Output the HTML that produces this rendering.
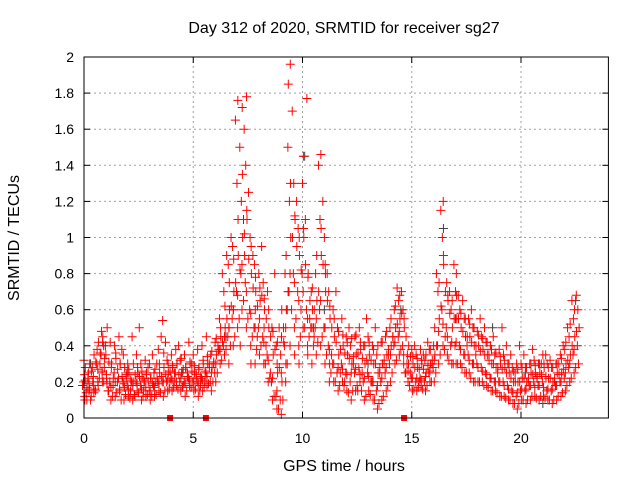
<!DOCTYPE html>
<html><head><meta charset="utf-8"><style>
html,body{margin:0;padding:0;background:#fff}
svg{display:block}
text{font-family:"Liberation Sans",sans-serif;font-size:14px;fill:#000}
text.big{font-size:16px}
</style></head><body>
<svg id="chart" width="640" height="480" viewBox="0 0 640 480"></svg>
<script>
const yTicks = [0,0.2,0.4,0.6,0.8,1,1.2,1.4,1.6,1.8,2];
const yTickLabels = ["0","0.2","0.4","0.6","0.8","1","1.2","1.4","1.6","1.8","2"];
const xTicks = [0,5,10,15,20];
const xTickLabels = ["0","5","10","15","20"];
const redRows = [
[0.0,.12,.2,.28,.32,.18,.1],[0.2,.15,.22,.3,.25,.1],[0.4,.18,.28,.35,.2,.12],[0.6,.2,.3,.42,.38,.15],
[0.8,.25,.35,.45,.48,.3,.2],[1.0,.22,.4,.5,.35,.28],[1.2,.1,.2,.3,.42,.15],[1.4,.12,.25,.33,.4,.18],
[1.6,.15,.22,.3,.45,.2],[1.8,.1,.2,.28,.35,.38],[2.0,.12,.18,.25,.3,.22],[2.2,.1,.2,.3,.45,.15],
[2.4,.15,.2,.25,.35,.12],[2.6,.1,.18,.22,.3,.5],[2.8,.12,.2,.25,.32,.15],[3.0,.1,.15,.22,.3,.28],
[3.2,.12,.18,.2,.25,.35],[3.4,.15,.2,.25,.38,.3],[3.6,.12,.2,.28,.54,.45],[3.8,.15,.2,.25,.32,.42],
[4.0,.15,.22,.28,.35,.2],[4.2,.18,.25,.3,.38,.2],[4.4,.15,.2,.25,.32,.4],[4.6,.12,.2,.28,.35,.18],
[4.8,.18,.22,.3,.42,.25],[5.0,.15,.2,.25,.35,.3],[5.2,.12,.2,.28,.38,.22],[5.4,.15,.22,.3,.4,.18],
[5.6,.18,.25,.3,.45,.2],[5.8,.15,.2,.28,.35,.3],[6.0,.2,.25,.35,.42,.3],[6.2,.3,.38,.45,.55,.4],
[6.4,.35,.4,.5,.7,.8,.45],[6.6,.3,.45,.6,.85,.9,.5],[6.8,.4,.55,.7,.95,1.0,.6],[7.0,.5,.7,.9,1.3,1.65,1.76],
[7.2,.6,.8,1.0,1.2,1.5,1.72,.4],[7.4,.5,.75,1.1,1.4,1.6,1.78,.9],[7.6,.4,.6,.8,1.0,1.25,.3],[7.8,.3,.5,.7,.85,.9,.6],
[8.0,.35,.5,.65,.8,.45],[8.2,.3,.45,.6,.75,.95,.5],[8.4,.2,.35,.5,.7,.4],[8.6,.1,.2,.35,.5,.25],
[8.8,.05,.12,.25,.4,.8,.3],[9.0,.02,.1,.2,.35,.5,.45],[9.2,.2,.4,.6,.8,.5,.3],[9.4,.4,.7,1.0,1.2,1.5,1.96,1.85],
[9.6,.5,.8,1.1,1.3,1.7,.35],[9.8,.4,.7,.9,1.05,1.2,.3],[10.0,.5,.8,1.0,1.3,.6,1.45],[10.2,.4,.6,.8,1.77,1.1,.35],
[10.4,.3,.5,.6,.7,.55],[10.6,.35,.5,.65,.8,.45],[10.8,.4,.6,.9,1.1,1.4,1.46],[11.0,.3,.5,.7,1.0,1.2,.85],
[11.2,.2,.4,.55,.7,.8,.3],[11.4,.2,.3,.45,.6,.35],[11.6,.15,.25,.35,.5,.7],[11.8,.2,.3,.4,.55,.25],
[12.0,.15,.25,.35,.45,.2],[12.2,.1,.2,.3,.4,.5],[12.4,.15,.25,.35,.45,.3],[12.6,.2,.28,.38,.5,.15],
[12.8,.1,.2,.3,.4,.25],[13.0,.15,.25,.35,.45,.55],[13.2,.1,.2,.3,.4,.2],[13.4,.05,.15,.25,.35,.5],
[13.6,.1,.2,.3,.42,.25],[13.8,.15,.25,.35,.45,.3],[14.0,.2,.3,.4,.5,.35],[14.2,.3,.4,.5,.6,.45],
[14.4,.35,.45,.55,.65,.72],[14.6,.3,.4,.5,.6,.7],[14.8,.2,.3,.4,.35,.25],[15.0,.15,.22,.3,.38,.25],
[15.2,.15,.2,.28,.35,.4],[15.4,.18,.22,.3,.38,.2],[15.6,.15,.2,.25,.32,.35],[15.8,.2,.25,.3,.38,.42],
[16.0,.2,.28,.35,.4,.3],[16.2,.3,.4,.55,.7,.8],[16.4,.4,.6,.85,1.0,1.15,1.2],[16.6,.35,.5,.65,.75,.45],
[16.8,.3,.4,.5,.6,.7],[17.0,.3,.4,.55,.7,.85,.8],[17.2,.3,.4,.5,.6,.68],[17.4,.25,.35,.45,.55,.65],
[17.6,.25,.35,.45,.55,.4],[17.8,.2,.3,.4,.5,.6],[18.0,.2,.3,.4,.48,.35],[18.2,.2,.28,.38,.45,.55],
[18.4,.18,.25,.35,.42,.5],[18.6,.15,.22,.3,.4,.35],[18.8,.15,.2,.28,.35,.45],[19.0,.12,.2,.3,.38,.25],
[19.2,.12,.2,.28,.35,.5],[19.4,.1,.18,.25,.3,.4],[19.6,.08,.15,.2,.28,.35],[19.8,.05,.12,.2,.3,.25],
[20.0,.1,.15,.22,.3,.4],[20.2,.08,.15,.2,.28,.35],[20.4,.1,.18,.25,.3,.2],[20.6,.12,.2,.25,.32,.38],
[20.8,.1,.18,.25,.3,.22],[21.0,.12,.2,.28,.35,.3],[21.2,.1,.15,.22,.3,.35],[21.4,.08,.15,.2,.28,.32],
[21.6,.1,.18,.25,.3,.2],[21.8,.12,.2,.25,.35,.3],[22.0,.15,.22,.3,.38,.4],[22.2,.2,.28,.35,.45,.5],
[22.4,.25,.35,.45,.55,.65],[22.6,.3,.4,.5,.6,.68]
];
const redRows2 = [
[0.1,.14,.24,.17,.21],[0.3,.1,.19,.26,.16],[0.5,.16,.23,.31,.14],[0.7,.22,.27,.36,.18],[0.9,.2,.26,.33,.42],
[1.1,.15,.24,.31,.19],[1.3,.12,.17,.22,.28],[1.5,.14,.2,.27,.36],[1.7,.1,.16,.23,.3],[1.9,.13,.19,.24,.17],
[2.1,.11,.16,.21,.27],[2.3,.13,.18,.24,.2],[2.5,.14,.19,.23,.28],[2.7,.12,.16,.21,.26],[2.9,.13,.17,.2,.24],
[3.1,.12,.15,.19,.22],[3.3,.13,.17,.22,.27],[3.5,.14,.19,.23,.3],[3.7,.15,.2,.24,.36],[3.9,.16,.21,.26,.3],
[4.1,.17,.21,.25,.29],[4.3,.16,.2,.24,.3],[4.5,.17,.22,.27,.33],[4.7,.15,.19,.23,.28],[4.9,.17,.21,.26,.31],
[5.1,.16,.2,.24,.29],[5.3,.15,.19,.23,.27],[5.5,.17,.21,.26,.32],[5.7,.19,.23,.28,.34],[5.9,.2,.25,.31,.37],
[6.1,.25,.3,.37,.44],[6.3,.32,.38,.42,.5],[6.5,.38,.45,.55,.62],[6.7,.4,.5,.62,.75],[6.9,.45,.6,.75,.88],
[7.1,.55,.68,.82,1.1],[7.3,.65,.85,1.02,1.35],[7.5,.55,.7,.88,1.15],[7.7,.45,.58,.72,.95],[7.9,.38,.5,.62,.78],
[8.1,.4,.55,.68,.72],[8.3,.3,.42,.55,.66],[8.5,.22,.32,.45,.6],[8.7,.12,.22,.38,.48],[8.9,.05,.15,.28,.42],
[9.1,.1,.25,.42,.6],[9.3,.3,.5,.7,.9],[9.5,.6,.8,1.0,1.3],[9.7,.55,.75,.95,1.12],[9.9,.45,.65,.82,1.0],
[10.1,.5,.7,.85,1.05],[10.3,.45,.55,.65,.78],[10.5,.4,.5,.6,.72],[10.7,.42,.55,.7,.9],[10.9,.45,.65,.85,1.05],
[11.1,.35,.5,.65,.8],[11.3,.25,.38,.5,.62],[11.5,.2,.3,.42,.55],[11.7,.18,.28,.38,.48],[11.9,.18,.27,.36,.46],
[12.1,.14,.24,.33,.42],[12.3,.15,.25,.34,.44],[12.5,.18,.27,.36,.46],[12.7,.15,.24,.33,.42],[12.9,.12,.22,.32,.4],
[13.1,.13,.23,.32,.42],[13.3,.1,.2,.3,.38],[13.5,.08,.18,.28,.4],[13.7,.12,.22,.32,.42],[13.9,.18,.28,.38,.48],
[14.1,.25,.35,.45,.55],[14.3,.32,.42,.52,.62],[14.5,.38,.48,.58,.68],[14.7,.25,.35,.45,.55],[14.9,.18,.26,.34,.3],
[15.1,.16,.22,.28,.34],[15.3,.17,.22,.27,.33],[15.5,.16,.21,.27,.32],[15.7,.18,.23,.29,.35],[15.9,.2,.26,.32,.38],
[16.1,.25,.32,.4,.5],[16.3,.35,.48,.62,.75],[16.5,.38,.52,.7,.9],[16.7,.32,.45,.58,.68],[16.9,.3,.42,.55,.65],
[17.1,.3,.42,.55,.68],[17.3,.28,.38,.48,.58],[17.5,.25,.35,.45,.55],[17.7,.22,.32,.42,.52],[17.9,.2,.3,.4,.5],
[18.1,.2,.28,.37,.46],[18.3,.18,.26,.35,.44],[18.5,.17,.24,.32,.42],[18.7,.15,.22,.3,.38],[18.9,.14,.2,.28,.36],
[19.1,.12,.2,.27,.34],[19.3,.11,.18,.25,.32],[19.5,.1,.16,.22,.3],[19.7,.08,.14,.2,.26],[19.9,.08,.14,.2,.27],
[20.1,.1,.16,.22,.28],[20.3,.1,.16,.22,.28],[20.5,.12,.18,.24,.3],[20.7,.11,.17,.23,.29],[20.9,.12,.18,.24,.3],
[21.1,.11,.17,.23,.3],[21.3,.1,.16,.22,.28],[21.5,.1,.16,.22,.28],[21.7,.12,.18,.24,.3],[21.9,.14,.2,.27,.33],
[22.1,.18,.25,.32,.42],[22.3,.22,.3,.4,.52],[22.5,.28,.38,.48,.6]
];
const blackTimes = [0.3,0.9,2.0,6.5,7.3,9.3,10.1,10.5,11.0,13.0,16.45,17.0,18.7,20.2,22.5,21.0,4.5,14.5];
const blackValues = [0.3,0.4,0.25,0.45,1.1,0.6,1.45,0.5,0.6,0.3,1.05,0.55,0.5,0.25,0.65,0.08,0.25,0.6];
const squareTimes = [3.94,5.58,14.65];

const X0=84,X1=608.4,Y0=418,Y1=57;
const xs = t => X0 + (t/24)*(X1-X0);
const ys = v => Y0 - (v/2)*(Y0-Y1);
const NS="http://www.w3.org/2000/svg";
const svg=document.getElementById('chart');
function mk(tag,attrs,parent){const e=document.createElementNS(NS,tag);for(const k in attrs)e.setAttribute(k,attrs[k]);(parent||svg).appendChild(e);return e;}

const grid=mk('g',{});


yTicks.forEach((v,i)=>{
  if(i>0&&i<yTicks.length-1) mk('line',{x1:X0,x2:X1,y1:ys(v),y2:ys(v),stroke:'#a0a0a0','stroke-dasharray':'2,3'},grid);
  mk('line',{x1:X0,x2:X0+6,y1:ys(v),y2:ys(v),stroke:'#000'},grid);
  mk('line',{x1:X1,x2:X1-6,y1:ys(v),y2:ys(v),stroke:'#000'},grid);
  const t=mk('text',{x:X0-10,y:ys(v)+5,'text-anchor':'end'});
  
  
  t.textContent=yTickLabels[i];
});
xTicks.forEach((v,i)=>{
  if(i>0) mk('line',{x1:xs(v),x2:xs(v),y1:Y0,y2:Y1,stroke:'#a0a0a0','stroke-dasharray':'2,3'},grid);
  mk('line',{x1:xs(v),x2:xs(v),y1:Y0,y2:Y0-6,stroke:'#000'},grid);
  mk('line',{x1:xs(v),x2:xs(v),y1:Y1,y2:Y1+6,stroke:'#000'},grid);
  const t=mk('text',{x:xs(v),y:Y0+25,'text-anchor':'middle'});
  
  
  t.textContent=xTickLabels[i];
});

function cross(g,x,y){mk('path',{d:`M${x-4.5},${y}h9M${x},${y-4.5}v9`},g);}
const blk=mk('g',{stroke:'#404040','stroke-width':1});


blackTimes.forEach((t,i)=>cross(blk,xs(t),ys(blackValues[i])));
const red=mk('g',{stroke:'#ff0000','stroke-width':1});


const jit=[-0.05,0.03,-0.02,0.06,0,-0.07,0.04];
redRows.forEach(r=>{for(let j=1;j<r.length;j++)cross(red,xs(r[0]+jit[j%7]),ys(r[j]));});
redRows2.forEach(r=>{for(let j=1;j<r.length;j++)cross(red,xs(r[0]+jit[(j+3)%7]),ys(r[j]));});
squareTimes.forEach(t=>{const s=mk('rect',{x:xs(t)-3,y:Y0-3,width:6,height:6,fill:'#ff0000'});
  
  });

const frame=mk('rect',{x:X0,y:Y1,width:X1-X0,height:Y0-Y1,fill:'none',stroke:'#000'});


const title=mk('text',{x:344,y:33,'text-anchor':'middle','class':'big'});


title.textContent='Day 312 of 2020, SRMTID for receiver sg27';
const xl=mk('text',{x:344,y:471,'text-anchor':'middle','class':'big'});


xl.textContent='GPS time / hours';
const yl=mk('text',{x:0,y:0,'text-anchor':'middle','class':'big',transform:'translate(19,238) rotate(-90)'});


yl.textContent='SRMTID / TECUs';
</script>
</body></html>
